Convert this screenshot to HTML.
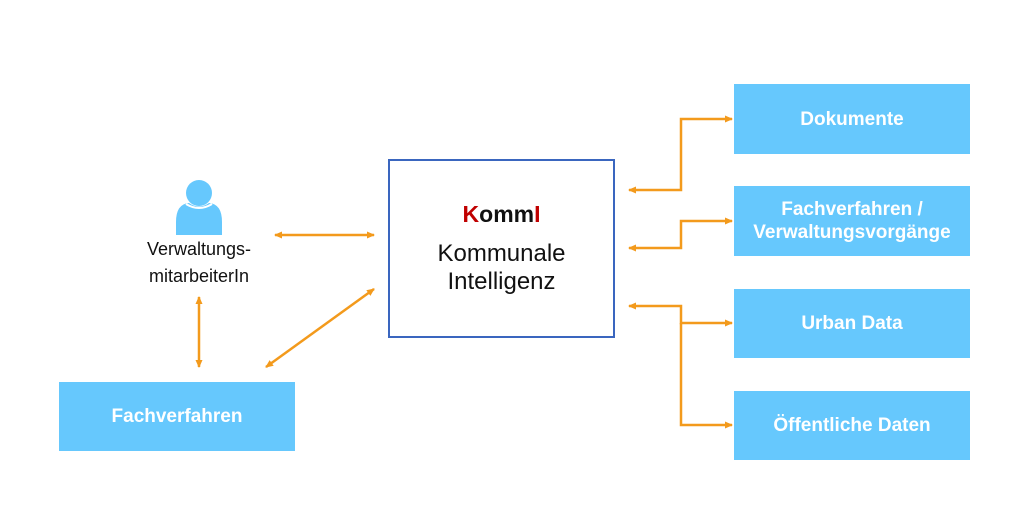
<!DOCTYPE html>
<html><head><style>
body{margin:0;width:1024px;height:519px;background:#fff;position:relative;overflow:hidden;font-family:"Liberation Sans",sans-serif}
.b{position:absolute;background:#66c8fd;color:#fff;font-weight:bold;font-size:19px;display:flex;align-items:center;justify-content:center;text-align:center;line-height:23px}
</style></head><body>
<div class="b" style="left:734px;top:84px;width:236px;height:70px">Dokumente</div>
<div class="b" style="left:734px;top:186px;width:236px;height:70px">Fachverfahren /<br>Verwaltungsvorgänge</div>
<div class="b" style="left:734px;top:289px;width:236px;height:69px">Urban Data</div>
<div class="b" style="left:734px;top:391px;width:236px;height:69px">Öffentliche Daten</div>
<div class="b" style="left:59px;top:382px;width:236px;height:69px">Fachverfahren</div>
<div style="position:absolute;left:388px;top:159px;width:223px;height:175px;border:2.5px solid #3a66bf;text-align:center">
<div style="margin-top:40px;font-size:23px;font-weight:bold;color:#111"><span style="color:#c00000">K</span>omm<span style="color:#c00000">I</span></div>
<div style="margin-top:12px;font-size:24px;line-height:28px;color:#111">Kommunale<br>Intelligenz</div>
</div>
<div style="position:absolute;left:110px;top:236px;width:178px;text-align:center;font-size:18px;line-height:27px;color:#111">Verwaltungs-<br>mitarbeiterIn</div>
<svg width="1024" height="519" style="position:absolute;left:0;top:0">
<defs><marker id="a" markerWidth="8" markerHeight="8" refX="7" refY="4" orient="auto-start-reverse" markerUnits="userSpaceOnUse"><path d="M0,0.5 L8,4 L0,7.5z" fill="#f39a1c"/></marker></defs>
<circle cx="199" cy="193" r="13" fill="#66c8fd"/>
<path d="M176,235 L176,222 Q176,204 189,203 Q199,210 209,203 Q222,204 222,222 L222,235z" fill="#66c8fd"/>
<path d="M186,204 Q199,212 212,204" stroke="#fff" stroke-width="2" fill="none"/>
<g stroke="#f39a1c" stroke-width="2.5" fill="none" marker-start="url(#a)" marker-end="url(#a)">
<line x1="275" y1="235" x2="374" y2="235"/>
<line x1="199" y1="297" x2="199" y2="367"/>
<line x1="266" y1="367" x2="374" y2="289"/>
<polyline points="629,190 681,190 681,119 732,119"/>
<polyline points="629,248 681,248 681,221 732,221"/>
<polyline points="629,306 681,306 681,323 732,323"/>
<polyline points="681,323 681,425 732,425" marker-start="none"/>
</g>
</svg>
</body></html>
